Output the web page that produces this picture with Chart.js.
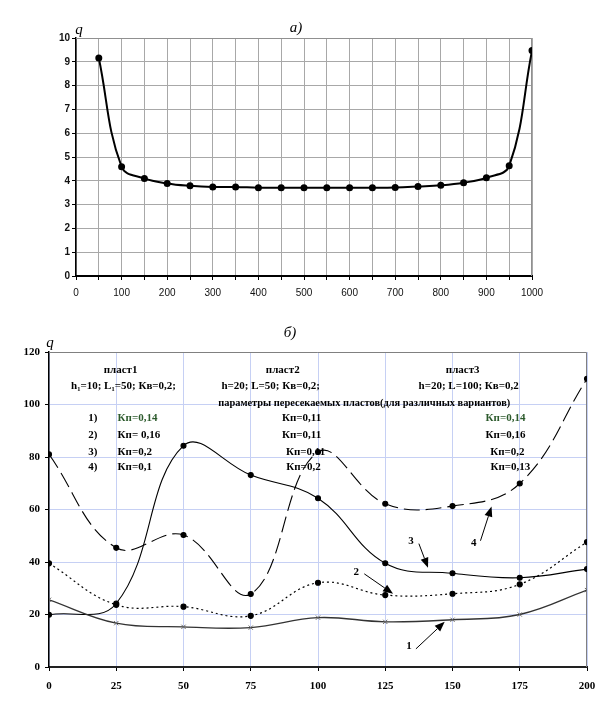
<!DOCTYPE html>
<html>
<head>
<meta charset="utf-8">
<script src="https://cdn.jsdelivr.net/npm/chart.js@4.4.1/dist/chart.umd.min.js"></script>
<style>
  body { margin: 0; background: #fff; width: 608px; height: 713px; overflow: hidden; position: relative; }
  canvas { position: absolute; left: 0; }
  #top { top: 0; }
  #bottom { top: 300px; }
</style>
</head>
<body>
<canvas id="top" width="608" height="300"></canvas>
<canvas id="bottom" width="608" height="413"></canvas>
<script>
// chart a): q along the well
const topX = [50, 100, 150, 200, 250, 300, 350, 400, 450, 500, 550, 600, 650, 700, 750, 800, 850, 900, 950, 1000];
const topQ = [9.16, 4.59, 4.1, 3.89, 3.79, 3.74, 3.74, 3.71, 3.71, 3.71, 3.71, 3.71, 3.71, 3.72, 3.76, 3.81, 3.92, 4.13, 4.63, 9.47];

// chart б): four variants
const bottomX = [0, 25, 50, 75, 100, 125, 150, 175, 200];
const series1 = [25.6, 16.7, 15.3, 15.0, 18.8, 17.2, 18.0, 20.0, 29.3];
const series2 = [39.5, 23.7, 23.0, 19.5, 32.1, 27.4, 27.9, 31.5, 47.6];
const series3 = [19.9, 24.2, 84.3, 73.1, 64.3, 39.5, 35.7, 34.0, 37.3];
const series4 = [81.0, 45.4, 50.3, 27.8, 81.9, 62.2, 61.3, 69.9, 109.8];

// text notes on chart б), placed in data units
const notes = [
  { t: 'пласт1', x: 26.6, y: 113.1 },
  { t: 'h\u2081=10; L\u2081=50; Кв=0,2;', x: 27.7, y: 107.0 },
  { t: 'пласт2', x: 86.9, y: 113.1 },
  { t: 'h=20; L=50; Кв=0,2;', x: 82.4, y: 107.0 },
  { t: 'пласт3', x: 153.8, y: 113.1 },
  { t: 'h=20; L=100; Кв=0,2', x: 156.0, y: 107.0 },
  { t: 'параметры пересекаемых пластов(для различных вариантов)', x: 117.2, y: 100.5, narrow: true },
  { t: '1)', x: 16.3, y: 94.8 },
  { t: '2)', x: 16.3, y: 88.3 },
  { t: '3)', x: 16.3, y: 81.8 },
  { t: '4)', x: 16.3, y: 76.1 },
  { t: 'Кп=0,14', x: 25.5, y: 94.8, left: true, c: '#2c5a2c' },
  { t: 'Кп= 0,16', x: 25.5, y: 88.3, left: true },
  { t: 'Кп=0,2', x: 25.5, y: 81.8, left: true },
  { t: 'Кп=0,1', x: 25.5, y: 76.1, left: true },
  { t: 'Кп=0,11', x: 93.9, y: 94.8 },
  { t: 'Кп=0,11', x: 93.9, y: 88.3 },
  { t: 'Кп=0,11', x: 95.4, y: 81.8 },
  { t: 'Кп=0,2', x: 94.6, y: 76.1 },
  { t: 'Кп=0,14', x: 169.7, y: 94.8, c: '#2c5a2c' },
  { t: 'Кп=0,16', x: 169.7, y: 88.3 },
  { t: 'Кп=0,2', x: 170.4, y: 81.8 },
  { t: 'Кп=0,13', x: 171.5, y: 76.1 },
  { t: '1', x: 133.8, y: 8.0 },
  { t: '2', x: 114.2, y: 36.3 },
  { t: '3', x: 134.6, y: 48.1 },
  { t: '4', x: 157.9, y: 47.0 }
];
const arrows = [
  { x0: 136.4, y0: 6.9, x1: 147.1, y1: 17.2 },
  { x0: 117.2, y0: 35.5, x1: 127.9, y1: 27.9 },
  { x0: 137.5, y0: 47.0, x1: 140.9, y1: 37.8 },
  { x0: 160.4, y0: 48.1, x1: 164.5, y1: 61.1 }
];

const framePlugin = {
  id: 'frame',
  beforeDatasetsDraw(chart, args, opts) {
    const a = chart.chartArea, ctx = chart.ctx;
    ctx.save();
    ctx.strokeStyle = opts.color;
    ctx.lineWidth = 1;
    ctx.beginPath();
    ctx.moveTo(a.left, a.top + 0.5);
    ctx.lineTo(a.right - 0.5, a.top + 0.5);
    ctx.lineTo(a.right - 0.5, a.bottom);
    ctx.stroke();
    ctx.restore();
  },
  afterDraw(chart, args, opts) {
    const ctx = chart.ctx;
    ctx.save();
    ctx.fillStyle = '#000';
    ctx.textAlign = 'center';
    ctx.textBaseline = 'middle';
    ctx.font = 'italic 15px "Liberation Serif"';
    ctx.fillText(opts.title, opts.titleX, opts.titleY);
    ctx.fillText('q', opts.qX, opts.qY);
    ctx.restore();
  }
};

const notesPlugin = {
  id: 'notes',
  afterDatasetsDraw(chart) {
    const ctx = chart.ctx, xs = chart.scales.x, ys = chart.scales.y;
    ctx.save();
    ctx.textBaseline = 'middle';
    notes.forEach(n => {
      ctx.font = n.narrow ? 'bold 10.4px "Liberation Serif"' : 'bold 11px "Liberation Serif"';
      ctx.fillStyle = n.c || '#000';
      ctx.textAlign = n.left ? 'left' : 'center';
      ctx.fillText(n.t, xs.getPixelForValue(n.x), ys.getPixelForValue(n.y));
    });
    ctx.strokeStyle = '#000';
    ctx.fillStyle = '#000';
    ctx.lineWidth = 1;
    arrows.forEach(ar => {
      const x0 = xs.getPixelForValue(ar.x0), y0 = ys.getPixelForValue(ar.y0);
      const x1 = xs.getPixelForValue(ar.x1), y1 = ys.getPixelForValue(ar.y1);
      const ang = Math.atan2(y1 - y0, x1 - x0);
      const len = 10, w = 4;
      const bx = x1 - len * Math.cos(ang), by = y1 - len * Math.sin(ang);
      ctx.beginPath();
      ctx.moveTo(x0, y0);
      ctx.lineTo(bx, by);
      ctx.stroke();
      ctx.beginPath();
      ctx.moveTo(x1, y1);
      ctx.lineTo(bx + w * Math.sin(ang), by - w * Math.cos(ang));
      ctx.lineTo(bx - w * Math.sin(ang), by + w * Math.cos(ang));
      ctx.closePath();
      ctx.fill();
    });
    ctx.restore();
  }
};

const smallFont = { family: '"Liberation Sans Narrow", "Liberation Sans"', size: 10 };

// chart a)
new Chart(document.getElementById('top').getContext('2d'), {
  type: 'line',
  data: {
    datasets: [{
      data: topX.map((x, i) => ({ x: x, y: topQ[i] })),
      borderColor: '#000',
      backgroundColor: '#000',
      borderWidth: 2,
      pointRadius: 2.5,
      tension: 0.4,
      fill: false
    }]
  },
  options: {
    responsive: false,
    animation: false,
    layout: { padding: { top: 38, right: 76, left: 0, bottom: 0 } },
    plugins: {
      legend: { display: false },
      tooltip: { enabled: false },
      frame: { color: '#909090', title: 'а)', titleX: 296, titleY: 28, qX: 79, qY: 30 }
    },
    scales: {
      x: {
        type: 'linear', min: 0, max: 1000,
        afterFit(s) { s.height = 24; },
        grid: { color: '#a8a8a8', tickLength: 4, tickColor: '#000' },
        border: { color: '#000', width: 2 },
        ticks: {
          stepSize: 50, autoSkip: false, maxRotation: 0, padding: 7,
          color: '#111', font: smallFont,
          callback: v => (v % 100 === 0 ? v : '')
        }
      },
      y: {
        min: 0, max: 10,
        afterFit(s) { s.width = 76; },
        grid: { color: '#a8a8a8', tickLength: 4, tickColor: '#000' },
        border: { color: '#000', width: 1.5 },
        ticks: { stepSize: 1, padding: 2, color: '#111', font: Object.assign({ weight: 'bold' }, smallFont) }
      }
    }
  },
  plugins: [framePlugin]
});

// chart б)
const pts = arr => bottomX.map((x, i) => ({ x: x, y: arr[i] }));
new Chart(document.getElementById('bottom').getContext('2d'), {
  type: 'line',
  data: {
    datasets: [
      { data: pts(series1), borderColor: '#333', backgroundColor: '#555', borderWidth: 1.4,
        pointStyle: 'crossRot', pointRadius: 3, pointBorderColor: '#666', pointBorderWidth: 1, tension: 0.4 },
      { data: pts(series2), borderColor: '#000', backgroundColor: '#000', borderWidth: 1.2,
        borderDash: [2, 3], pointRadius: 2.5, tension: 0.4 },
      { data: pts(series3), borderColor: '#000', backgroundColor: '#000', borderWidth: 1.1,
        pointRadius: 2.5, tension: 0.4 },
      { data: pts(series4), borderColor: '#000', backgroundColor: '#000', borderWidth: 1.1,
        borderDash: [16, 6], pointRadius: 2.5, tension: 0.4 }
    ]
  },
  options: {
    responsive: false,
    animation: false,
    layout: { padding: { top: 52, right: 21, left: 0, bottom: 0 } },
    plugins: {
      legend: { display: false },
      tooltip: { enabled: false },
      frame: { color: '#808080', title: 'б)', titleX: 290, titleY: 33, qX: 50, qY: 43 }
    },
    scales: {
      x: {
        type: 'linear', min: 0, max: 200,
        afterFit(s) { s.height = 46; },
        grid: { color: '#c6d0f4', tickLength: 4, tickColor: '#000' },
        border: { color: '#222', width: 2 },
        ticks: { stepSize: 25, autoSkip: false, maxRotation: 0, padding: 9, color: '#000',
          font: { family: 'Liberation Serif', size: 11, weight: 'bold' } }
      },
      y: {
        min: 0, max: 120,
        afterFit(s) { s.width = 49; },
        grid: { color: '#c6d0f4', tickLength: 4, tickColor: '#000' },
        border: { color: '#000', width: 1.5 },
        ticks: { stepSize: 20, padding: 5, color: '#000',
          font: { family: 'Liberation Serif', size: 11, weight: 'bold' } }
      }
    }
  },
  plugins: [framePlugin, notesPlugin]
});
</script>
</body>
</html>
